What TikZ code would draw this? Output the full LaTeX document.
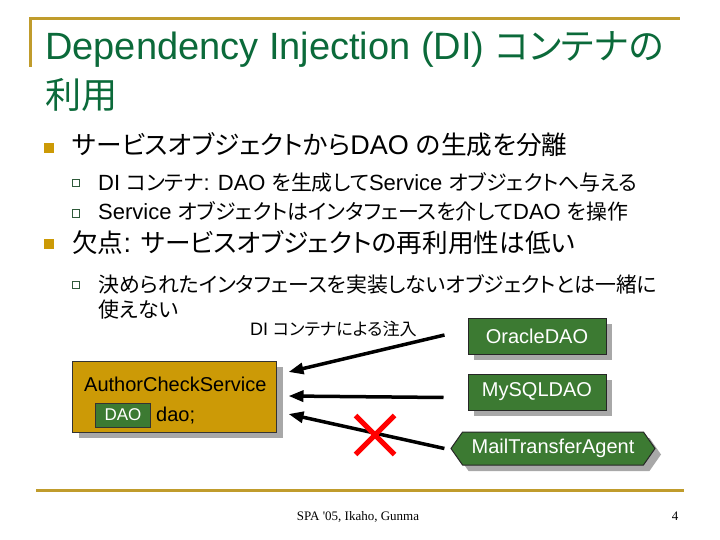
\documentclass[tikz,border=0pt]{standalone}
\usepackage{xcolor}
\usepackage{fontspec}
\setmainfont{Liberation Sans}
\newfontfamily\jpfont[RawFeature=+palt, Scale=0.95]{Noto Sans CJK JP}
\newfontfamily\footfont{Liberation Serif}
\newcommand{\ja}[1]{{\jpfont #1}}
\usepackage{tikz}
\usetikzlibrary{arrows.meta,positioning,shadows,shapes.symbols,shapes.misc}
\definecolor{spaGreen}{HTML}{0B6A3A}
\definecolor{spaGold}{HTML}{C09C2C}
\definecolor{spaBullet}{HTML}{CC9A06}
\definecolor{spaMustard}{HTML}{CC9A06}
\definecolor{spaLeaf}{HTML}{3C7A32}
\definecolor{spaShadow}{HTML}{A8A8A8}
\definecolor{spaSub}{HTML}{2F5A3A}
\tikzset{
  goldRule/.style={draw=spaGold, line width=3pt},
  titleText/.style={
    anchor=base west,
    inner sep=0pt,
    text=spaGreen,
    font=\fontsize{38}{44}\selectfont
  },
  levelOne/.style={anchor=base west, inner sep=0pt, font=\fontsize{27}{32}\selectfont},
  levelTwo/.style={anchor=base west, inner sep=0pt, font=\fontsize{22}{26}\selectfont},
  bulletOne/.style={fill=spaBullet, minimum size=10pt, inner sep=0pt},
  bulletTwo/.style={draw=spaSub, line width=1pt, fill=white, minimum size=7.5pt, inner sep=0pt},
  boxShadow/.style={
    drop shadow={shadow xshift=6pt, shadow yshift=-6pt, fill=spaShadow, opacity=1}
  },
  daoBox/.style={
    boxShadow,
    draw=black!85,
    line width=1pt,
    fill=spaLeaf,
    text=white,
    font=\fontsize{20}{24}\selectfont,
    minimum width=138pt,
    minimum height=36pt,
    inner sep=0pt
  },
  agentBox/.style={
    daoBox,
    signal,
    signal to=west and east,
    signal pointer angle=110,
    minimum width=204pt,
    minimum height=33pt
  },
  serviceBox/.style={
    boxShadow,
    draw=black!80,
    line width=1pt,
    fill=spaMustard,
    minimum width=204pt,
    minimum height=71pt
  },
  fieldBox/.style={
    draw=black!80,
    fill=spaLeaf,
    text=white,
    font=\fontsize{17}{20}\selectfont,
    minimum width=55pt,
    minimum height=24pt,
    inner sep=0pt
  },
  injArrow/.style={-{Triangle[length=15pt,width=11pt]}, line width=3.5pt},
  noMatch/.style={cross out, draw=red, line width=5pt, minimum size=34pt, inner sep=0pt}
}

\begin{document}
\begin{tikzpicture}[x=1pt,y=-1pt]
  \useasboundingbox[fill=white] (0,0) rectangle (720,540);
  \draw[goldRule] (30.5,67) -- (30.5,18.5) -- (680,18.5);
  \draw[goldRule] (36,490) -- (684,490);

  \node[titleText] (titleLineA) at (45,60) {Dependency Injection (DI) \ja{コンテナの}};
  \node[titleText] (titleLineB) at (45,108.5) {\ja{利用}};

  \node[bulletOne] (markA) at (49,148) {};
  \node[levelOne] (pointA) at (72,155) {\ja{サービスオブジェクトから}DAO \ja{の生成を分離}};
  \node[bulletTwo] (markAa) at (76,183) {};
  \node[levelTwo] (pointAa) at (98,191) {DI \ja{コンテナ}: DAO \ja{を生成して}Service \ja{オブジェクトへ与える}};
  \node[bulletTwo] (markAb) at (76,213.5) {};
  \node[levelTwo] (pointAb) at (98,220) {Service \ja{オブジェクトはインタフェースを介して}DAO \ja{を操作}};
  \node[bulletOne] (markB) at (49,244) {};
  \node[levelOne] (pointB) at (72,252) {\ja{欠点}: \ja{サービスオブジェクトの再利用性は低い}};
  \node[bulletTwo] (markBa) at (76,285) {};
  \node[levelTwo] (pointBa) at (98,292) {\ja{決められたインタフェースを実装しないオブジェクトとは一緒に}};
  \node[levelTwo] (pointBb) at (98,317) {\ja{使えない}};

  \node[serviceBox] (authorBox) at (174.5,396.5) {};
  \node[anchor=base west, inner sep=0pt, font=\fontsize{20}{24}\selectfont] (authorName) at (84,391) {AuthorCheckService};
  \node[fieldBox] (daoType) at (123,415) {DAO};
  \node[anchor=west, inner sep=0pt, font=\fontsize{20}{24}\selectfont] (daoField) at (156,416) {dao;};

  \node[daoBox] (oracleDao) at (537,336) {OracleDAO};
  \node[daoBox, below=19pt of oracleDao] (mySqlDao) {MySQLDAO};
  \node[agentBox] (mailAgent) at (553,448.5) {MailTransferAgent};

  \node[anchor=base east, inner sep=0pt, font=\fontsize{18}{21}\selectfont] (injLabel) at (417,335) {DI \ja{コンテナによる注入}};

  \draw[injArrow] ([xshift=-23pt,yshift=1pt]oracleDao.west) -- ([xshift=11.5pt,yshift=24.5pt]authorBox.east);
  \draw[injArrow] ([xshift=-24pt,yshift=-5.5pt]mySqlDao.west) -- ([xshift=11.5pt,yshift=0.5pt]authorBox.east);
  \draw[injArrow] ([xshift=-6pt]mailAgent.west) -- ([xshift=11.5pt,yshift=-17.5pt]authorBox.east);
  \node[noMatch] (noInject) at (375,435) {};

  \node[font=\footfont\fontsize{13}{15}\selectfont] (footerText) at (358,517) {SPA '05, Ikaho, Gunma};
  \node[font=\footfont\fontsize{13}{15}\selectfont] (pageNum) at (675,516) {4};
\end{tikzpicture}
\end{document}
